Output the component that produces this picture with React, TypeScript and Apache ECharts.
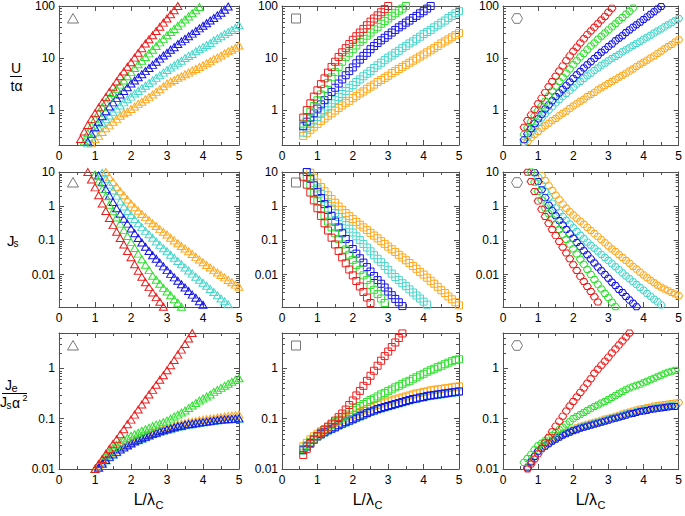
import React, { useEffect, useRef } from "react";
import * as echarts from "echarts";

const FONT = '"Liberation Sans", Arial, Helvetica, sans-serif';
const AXIS_COLOR = "#505050";
const ICON_COLOR = "#777777";

// colour order: red, green, blue, cyan, orange
const COLOR_LIST = ["#ee1d1d", "#30e030", "#1515e6", "#48d6cc", "#ffa81c"];
const DRAW_ORDER = [4, 3, 2, 1, 0];

const X_MIN = 0;
const X_MAX = 5;
const X_STEP = 0.1;
const X_TICK_LABELS = ["0", "1", "2", "3", "4", "5"];

const ROW_Y_MIN = [0.214, 0.00113, 0.01];
const ROW_Y_MAX = [100, 10, 5];
const ROW_DECADES = [
  [0.1, 1, 10],
  [0.001, 0.01, 0.1, 1],
  [0.01, 0.1, 1],
];
const MINOR_MULTIPLIERS = [2, 3, 4, 5, 6, 7, 8, 9];

// ---------- Row 1 : U / (t alpha) ----------
// triangles
const U_TRI_X0 = [0.6, 0.7, 0.8, 0.8, 0.9];
const U_TRI_RED = [0.28, 0.39, 0.52, 0.68, 0.87, 1.12, 1.41, 1.78, 2.24, 2.82, 3.55, 4.47, 5.5, 6.8, 8.3, 10.2, 12.6, 15.5, 19.1, 22.9, 27.5, 33.1, 39.8, 47.9, 57.5, 69.2, 83.2, 100];
const U_TRI_GREEN = [0.25, 0.36, 0.5, 0.68, 0.89, 1.15, 1.41, 1.74, 2.14, 2.57, 3.09, 3.72, 4.47, 5.37, 6.46, 7.59, 8.91, 10.5, 12.3, 14.5, 17, 20, 23.4, 27.5, 31.6, 36.3, 41.7, 47.9, 55, 63.1, 72.4, 83.2, 95.5];
const U_TRI_BLUE = [0.25, 0.35, 0.47, 0.6, 0.76, 0.95, 1.17, 1.41, 1.7, 2.0, 2.34, 2.75, 3.24, 3.72, 4.27, 4.9, 5.62, 6.46, 7.41, 8.51, 9.77, 11.2, 12.6, 14.5, 16.2, 18.6, 20.9, 23.4, 26.3, 29.5, 33.1, 37.2, 41.7, 46.8, 52.5, 58.9, 66.1, 74.1, 85, 98];
const U_TRI_CYAN = [0.23, 0.3, 0.37, 0.46, 0.56, 0.68, 0.79, 0.93, 1.07, 1.23, 1.41, 1.62, 1.82, 2.09, 2.34, 2.63, 2.95, 3.31, 3.72, 4.17, 4.68, 5.25, 5.89, 6.61, 7.24, 8.13, 8.91, 10, 11, 12, 13.5, 14.8, 16.2, 17.8, 19.5, 21.9, 24, 26.3, 28.8, 31.6, 34.7, 38, 42.7];
const U_TRI_ORANGE = [0.23, 0.28, 0.32, 0.38, 0.45, 0.51, 0.6, 0.68, 0.78, 0.87, 0.93, 1.05, 1.17, 1.32, 1.45, 1.62, 1.78, 2.0, 2.24, 2.51, 2.88, 3.24, 3.55, 3.8, 4.17, 4.47, 4.9, 5.25, 5.75, 6.17, 6.76, 7.24, 7.94, 8.71, 9.55, 10.2, 11.2, 12.3, 13.5, 14.5, 15.8, 17.4];
// squares
const U_SQ_X0 = [0.6, 0.6, 0.6, 0.6, 0.6];
const U_SQ_RED = [0.72, 1.0, 1.35, 1.82, 2.4, 3.16, 4.07, 5.25, 6.76, 8.51, 10.5, 12.9, 15.5, 18.6, 22.4, 26.3, 30.9, 36.3, 42.7, 50.1, 57.5, 66.1, 75.9, 87.1, 100];
const U_SQ_GREEN = [0.55, 0.72, 0.93, 1.2, 1.55, 2.0, 2.57, 3.31, 4.27, 5.37, 6.76, 8.51, 10.5, 12.6, 14.8, 17.4, 20.4, 23.4, 26.9, 30.9, 35.5, 39.8, 45.7, 51.3, 57.5, 64.6, 72.4, 81.3, 89.1, 100];
const U_SQ_BLUE = [0.49, 0.6, 0.72, 0.87, 1.07, 1.29, 1.55, 1.86, 2.24, 2.69, 3.24, 3.89, 4.68, 5.62, 6.61, 7.94, 9.33, 11, 12.6, 14.8, 17, 19.5, 21.9, 24.5, 27.5, 30.9, 34.7, 38.9, 42.7, 47.9, 52.5, 58.9, 64.6, 72.4, 79.4, 89.1, 100];
const U_SQ_CYAN = [0.37, 0.45, 0.54, 0.63, 0.74, 0.87, 1.0, 1.17, 1.35, 1.55, 1.78, 2.04, 2.34, 2.69, 3.02, 3.47, 3.89, 4.47, 5.01, 5.62, 6.46, 7.24, 8.13, 9.12, 10.2, 11.2, 12.6, 13.8, 15.5, 17, 19.1, 20.9, 23.4, 25.7, 28.8, 31.6, 34.7, 38.9, 42.7, 47.9, 52.5, 58.9, 64.6, 72.4, 79.4];
const U_SQ_ORANGE = [0.32, 0.36, 0.42, 0.48, 0.54, 0.62, 0.69, 0.78, 0.87, 0.98, 1.1, 1.23, 1.38, 1.51, 1.7, 1.86, 2.09, 2.29, 2.57, 2.82, 3.09, 3.47, 3.8, 4.17, 4.57, 5.13, 5.62, 6.17, 6.76, 7.41, 8.13, 8.91, 9.77, 10.7, 11.7, 12.9, 14.1, 15.5, 17, 19.1, 20.9, 22.9, 25.1, 27.5, 30.2];
// hexagons
const U_HEX_X0 = [0.6, 0.6, 0.6, 0.6, 0.7];
const U_HEX_RED = [0.47, 0.63, 0.81, 1.02, 1.32, 1.7, 2.19, 2.82, 3.55, 4.47, 5.62, 7.08, 8.91, 11, 13.5, 16.2, 19.5, 23.4, 28.2, 33.1, 38.9, 45.7, 53.7, 63.1, 76, 91];
const U_HEX_GREEN = [0.34, 0.46, 0.6, 0.78, 0.98, 1.2, 1.48, 1.86, 2.34, 2.88, 3.55, 4.27, 5.13, 6.17, 7.41, 8.91, 10.5, 12.3, 14.5, 17, 19.5, 22.9, 26.3, 30.2, 34.7, 39.8, 45.7, 52.5, 60.3, 69.2, 79.4, 91.2];
const U_HEX_BLUE = [0.27, 0.35, 0.44, 0.55, 0.68, 0.83, 1.05, 1.26, 1.51, 1.82, 2.14, 2.51, 2.95, 3.47, 4.07, 4.79, 5.5, 6.46, 7.41, 8.51, 9.77, 11.2, 12.9, 14.5, 16.6, 18.6, 21.4, 24, 26.9, 30.9, 34.7, 38.9, 43.7, 49, 55, 61.7, 69.2, 77.6, 87.1, 97.7];
const U_HEX_CYAN = [0.24, 0.3, 0.38, 0.47, 0.58, 0.71, 0.85, 1.0, 1.17, 1.38, 1.58, 1.82, 2.09, 2.4, 2.75, 3.16, 3.55, 4.07, 4.57, 5.13, 5.75, 6.46, 7.24, 7.94, 8.91, 9.77, 10.7, 11.7, 13.2, 14.5, 15.8, 17.4, 19.1, 20.9, 22.9, 25.1, 27.5, 30.2, 33.1, 36.3, 39.8, 43.7, 47.9, 52.5, 57.5];
const U_HEX_ORANGE = [0.25, 0.3, 0.34, 0.39, 0.45, 0.5, 0.56, 0.63, 0.69, 0.78, 0.87, 0.95, 1.07, 1.2, 1.32, 1.48, 1.62, 1.82, 2.0, 2.19, 2.45, 2.69, 2.95, 3.24, 3.55, 3.89, 4.27, 4.68, 5.13, 5.62, 6.17, 6.92, 7.59, 8.32, 9.12, 10, 11, 12.3, 13.5, 15.1, 16.6, 18.2, 20.4, 22.4];

// ---------- Row 2 : Js ----------
const JS_TRI_X0 = [0.8, 1.0, 1.1, 1.2, 1.3];
const JS_TRI_RED = [10, 6.0, 3.55, 2.09, 1.2, 0.72, 0.45, 0.28, 0.18, 0.117, 0.076, 0.049, 0.032, 0.02, 0.013, 0.0087, 0.006, 0.0043, 0.003, 0.0022, 0.0016, 0.00115];
const JS_TRI_GREEN = [8.5, 5.25, 3.16, 1.95, 1.1, 0.71, 0.47, 0.31, 0.2, 0.135, 0.089, 0.06, 0.041, 0.028, 0.0195, 0.0135, 0.0093, 0.0071, 0.0054, 0.0041, 0.0032, 0.0025, 0.0019, 0.0015, 0.00115];
const JS_TRI_BLUE = [7.94, 5.01, 3.16, 2.04, 1.32, 0.87, 0.6, 0.43, 0.31, 0.224, 0.162, 0.117, 0.087, 0.065, 0.049, 0.037, 0.029, 0.0224, 0.0174, 0.0135, 0.0105, 0.0083, 0.0066, 0.0052, 0.0042, 0.0033, 0.0026, 0.0021, 0.00166, 0.00132];
const JS_TRI_CYAN = [9.55, 6.31, 4.27, 2.88, 2.04, 1.38, 0.98, 0.72, 0.55, 0.42, 0.316, 0.245, 0.19, 0.151, 0.12, 0.093, 0.074, 0.059, 0.048, 0.038, 0.031, 0.025, 0.02, 0.0162, 0.0132, 0.0107, 0.0087, 0.0071, 0.0058, 0.0047, 0.0038, 0.0031, 0.0025, 0.002, 0.00166, 0.00135, 0.00112];
const JS_TRI_ORANGE = [10, 7.08, 5.13, 3.72, 2.75, 2.09, 1.58, 1.2, 0.93, 0.74, 0.59, 0.48, 0.39, 0.316, 0.263, 0.214, 0.178, 0.148, 0.12, 0.1, 0.083, 0.069, 0.058, 0.048, 0.04, 0.033, 0.0275, 0.023, 0.019, 0.0162, 0.0135, 0.0115, 0.0098, 0.0083, 0.007, 0.006, 0.0051, 0.0044];
const JS_SQ_X0 = [0.6, 0.7, 0.7, 0.7, 0.8];
const JS_SQ_RED = [7.24, 4.27, 2.51, 1.48, 0.87, 0.52, 0.316, 0.195, 0.12, 0.076, 0.049, 0.032, 0.0214, 0.0141, 0.0095, 0.0065, 0.0045, 0.0031, 0.00214, 0.00148, 0.00112];
const JS_SQ_GREEN = [7.24, 4.17, 2.4, 1.38, 0.83, 0.54, 0.355, 0.24, 0.162, 0.11, 0.076, 0.054, 0.038, 0.027, 0.019, 0.0135, 0.0095, 0.0069, 0.005, 0.0036, 0.0027, 0.002, 0.00148, 0.00112];
const JS_SQ_BLUE = [10, 6.31, 4.07, 2.63, 1.74, 1.15, 0.78, 0.52, 0.355, 0.24, 0.162, 0.11, 0.078, 0.056, 0.041, 0.03, 0.0224, 0.0166, 0.0123, 0.0091, 0.0069, 0.0054, 0.0042, 0.0032, 0.0025, 0.00195, 0.00155, 0.0012];
const JS_SQ_CYAN = [10, 6.92, 4.79, 3.31, 2.34, 1.66, 1.17, 0.85, 0.63, 0.48, 0.363, 0.28, 0.22, 0.17, 0.132, 0.102, 0.079, 0.062, 0.048, 0.037, 0.029, 0.023, 0.0178, 0.0138, 0.0107, 0.0085, 0.0069, 0.0056, 0.0046, 0.0037, 0.003, 0.00245, 0.002, 0.00162, 0.00132];
const JS_SQ_ORANGE = [9.55, 6.76, 4.9, 3.63, 2.75, 2.09, 1.62, 1.26, 0.98, 0.78, 0.63, 0.51, 0.42, 0.347, 0.288, 0.24, 0.2, 0.166, 0.138, 0.115, 0.095, 0.079, 0.066, 0.055, 0.046, 0.038, 0.0316, 0.0263, 0.0219, 0.0178, 0.0148, 0.012, 0.01, 0.0081, 0.0066, 0.0054, 0.0044, 0.0035, 0.0029, 0.0023, 0.0019, 0.00155, 0.00126];
const JS_HEX_X0 = [0.7, 0.8, 0.9, 1.0, 1.1];
const JS_HEX_RED = [9.8, 5.25, 2.69, 1.41, 0.81, 0.5, 0.316, 0.209, 0.138, 0.093, 0.063, 0.043, 0.029, 0.0195, 0.0132, 0.0089, 0.0063, 0.0045, 0.0032, 0.00224, 0.00158, 0.00112];
const JS_HEX_GREEN = [10, 5.01, 2.69, 1.51, 0.89, 0.6, 0.42, 0.295, 0.209, 0.148, 0.107, 0.078, 0.056, 0.04, 0.028, 0.02, 0.0141, 0.01, 0.0072, 0.0052, 0.0038, 0.0028, 0.0021, 0.00155, 0.00115];
const JS_HEX_BLUE = [9.55, 5.25, 3.02, 1.78, 1.07, 0.74, 0.525, 0.38, 0.282, 0.209, 0.155, 0.115, 0.087, 0.066, 0.05, 0.038, 0.0288, 0.0219, 0.0166, 0.0129, 0.01, 0.0078, 0.006, 0.0048, 0.0037, 0.003, 0.0023, 0.0018, 0.00145, 0.00115];
const JS_HEX_CYAN = [7.08, 4.27, 2.69, 1.78, 1.23, 0.89, 0.66, 0.5, 0.39, 0.3, 0.234, 0.182, 0.141, 0.112, 0.089, 0.072, 0.059, 0.048, 0.039, 0.0316, 0.0257, 0.0209, 0.017, 0.0138, 0.0112, 0.0091, 0.0076, 0.0062, 0.0051, 0.0042, 0.0035, 0.0028, 0.00234, 0.0019, 0.0016, 0.0013];
const JS_HEX_ORANGE = [7.94, 5.62, 3.98, 2.88, 2.09, 1.55, 1.15, 0.87, 0.69, 0.55, 0.447, 0.363, 0.295, 0.24, 0.195, 0.158, 0.129, 0.105, 0.085, 0.069, 0.056, 0.047, 0.038, 0.0316, 0.0257, 0.0214, 0.0174, 0.0145, 0.0117, 0.0098, 0.0081, 0.0068, 0.0058, 0.0049, 0.0043, 0.0038, 0.0034, 0.003, 0.0027, 0.0024];

// ---------- Row 3 : Je / (Js alpha^2) ----------
const JE_TRI_X0 = [1.0, 1.0, 1.1, 1.1, 1.0];
const JE_TRI_RED = [0.01, 0.0126, 0.0158, 0.02, 0.0251, 0.0316, 0.0389, 0.049, 0.0617, 0.0776, 0.0955, 0.12, 0.151, 0.191, 0.24, 0.302, 0.372, 0.468, 0.589, 0.724, 0.912, 1.15, 1.45, 1.86, 2.34, 3.02, 3.89, 5.01];
const JE_TRI_GREEN = [0.01, 0.0126, 0.0155, 0.0186, 0.0224, 0.0263, 0.0302, 0.0339, 0.038, 0.0417, 0.0457, 0.049, 0.0525, 0.0575, 0.0617, 0.066, 0.0708, 0.0759, 0.0794, 0.0851, 0.0912, 0.1, 0.11, 0.12, 0.132, 0.145, 0.162, 0.182, 0.204, 0.229, 0.251, 0.275, 0.302, 0.339, 0.372, 0.407, 0.447, 0.49, 0.537, 0.589, 0.631];
const JE_TRI_BLUE = [0.0107, 0.0129, 0.0151, 0.0174, 0.0195, 0.0219, 0.0245, 0.0269, 0.0295, 0.0324, 0.0355, 0.038, 0.0407, 0.0437, 0.0468, 0.0501, 0.0525, 0.0562, 0.0589, 0.0617, 0.0646, 0.0676, 0.0708, 0.0724, 0.0759, 0.0776, 0.0794, 0.0813, 0.0832, 0.0851, 0.0871, 0.0891, 0.0912, 0.0933, 0.0955, 0.0966, 0.0977, 0.0988, 0.1, 0.101];
const JE_TRI_CYAN = [0.0105, 0.0126, 0.0148, 0.017, 0.0191, 0.0214, 0.024, 0.0263, 0.0288, 0.0316, 0.0347, 0.0372, 0.0398, 0.0427, 0.0457, 0.049, 0.0513, 0.055, 0.0575, 0.0603, 0.0631, 0.0661, 0.0692, 0.0708, 0.0741, 0.0759, 0.0776, 0.0794, 0.0813, 0.0832, 0.0851, 0.0871, 0.0891, 0.0912, 0.0933, 0.0944, 0.0955, 0.0966, 0.0977, 0.0988];
const JE_TRI_ORANGE = [0.01, 0.0117, 0.0138, 0.0162, 0.0186, 0.0209, 0.0234, 0.0263, 0.0288, 0.0316, 0.0347, 0.038, 0.0407, 0.0437, 0.0468, 0.0501, 0.0537, 0.0562, 0.0603, 0.0631, 0.0661, 0.0692, 0.0724, 0.0759, 0.0794, 0.0813, 0.0851, 0.0871, 0.0891, 0.0933, 0.0955, 0.0977, 0.1, 0.102, 0.105, 0.107, 0.11, 0.112, 0.115, 0.117, 0.12];
const JE_SQ_X0 = [0.6, 0.6, 0.6, 0.6, 0.6];
const JE_SQ_RED = [0.019, 0.0251, 0.0316, 0.038, 0.0447, 0.0525, 0.0603, 0.0692, 0.0794, 0.0912, 0.107, 0.126, 0.151, 0.186, 0.229, 0.288, 0.355, 0.447, 0.562, 0.708, 0.891, 1.12, 1.41, 1.74, 2.14, 2.63, 3.24, 3.98, 4.9];
const JE_SQ_GREEN = [0.0251, 0.0295, 0.0347, 0.0398, 0.0457, 0.0525, 0.0603, 0.0676, 0.0759, 0.0851, 0.0955, 0.107, 0.12, 0.135, 0.148, 0.162, 0.178, 0.195, 0.214, 0.234, 0.251, 0.275, 0.302, 0.324, 0.355, 0.38, 0.417, 0.447, 0.49, 0.525, 0.562, 0.617, 0.661, 0.724, 0.776, 0.851, 0.912, 0.977, 1.05, 1.12, 1.2, 1.29, 1.38, 1.45, 1.51];
const JE_SQ_BLUE = [0.024, 0.0282, 0.0331, 0.0389, 0.0447, 0.049, 0.0537, 0.0589, 0.0631, 0.0676, 0.0741, 0.0794, 0.0851, 0.0912, 0.0977, 0.105, 0.112, 0.12, 0.129, 0.138, 0.145, 0.155, 0.162, 0.17, 0.178, 0.186, 0.195, 0.204, 0.214, 0.224, 0.234, 0.245, 0.251, 0.263, 0.269, 0.282, 0.288, 0.295, 0.302, 0.309, 0.316, 0.324, 0.331, 0.339, 0.347];
const JE_SQ_CYAN = [0.023, 0.0275, 0.0324, 0.038, 0.0437, 0.0479, 0.0525, 0.0575, 0.0617, 0.0661, 0.0724, 0.0776, 0.0832, 0.0891, 0.0955, 0.102, 0.11, 0.117, 0.126, 0.135, 0.141, 0.151, 0.158, 0.166, 0.174, 0.182, 0.191, 0.2, 0.209, 0.219, 0.229, 0.24, 0.245, 0.257, 0.263, 0.275, 0.282, 0.288, 0.295, 0.302, 0.309, 0.316, 0.324, 0.331, 0.339];
const JE_SQ_ORANGE = [0.0282, 0.0331, 0.0389, 0.0447, 0.0501, 0.0562, 0.0617, 0.0676, 0.0741, 0.0813, 0.0891, 0.0955, 0.102, 0.11, 0.117, 0.126, 0.135, 0.145, 0.155, 0.166, 0.178, 0.186, 0.2, 0.209, 0.219, 0.229, 0.24, 0.251, 0.263, 0.275, 0.288, 0.302, 0.316, 0.324, 0.339, 0.347, 0.363, 0.372, 0.38, 0.389, 0.398, 0.407, 0.417, 0.427, 0.437];
const JE_HEX_X0 = [0.7, 0.6, 0.7, 0.7, 0.7];
const JE_HEX_RED = [0.01, 0.0126, 0.0158, 0.02, 0.0257, 0.0331, 0.0427, 0.055, 0.0708, 0.0891, 0.112, 0.141, 0.178, 0.219, 0.269, 0.331, 0.407, 0.501, 0.617, 0.794, 0.955, 1.15, 1.38, 1.66, 2.0, 2.4, 2.88, 3.47, 4.17, 5.01];
const JE_HEX_GREEN = [0.0135, 0.0162, 0.0195, 0.024, 0.0288, 0.0324, 0.0363, 0.0417, 0.0468, 0.0525, 0.0603, 0.0676, 0.0776, 0.0871, 0.1, 0.11, 0.12, 0.132, 0.145, 0.158, 0.174, 0.186, 0.204, 0.219, 0.24, 0.263, 0.288, 0.316, 0.347, 0.38, 0.407, 0.427, 0.457, 0.479, 0.513, 0.55, 0.589, 0.631, 0.676, 0.724, 0.776, 0.832, 0.871, 0.912];
const JE_HEX_BLUE = [0.0105, 0.0138, 0.0178, 0.0224, 0.0251, 0.0282, 0.0316, 0.0355, 0.0389, 0.0427, 0.0468, 0.0501, 0.0537, 0.0575, 0.0603, 0.0646, 0.0676, 0.0708, 0.0741, 0.0776, 0.0813, 0.0851, 0.0891, 0.0933, 0.0977, 0.102, 0.107, 0.112, 0.117, 0.123, 0.126, 0.132, 0.138, 0.141, 0.145, 0.151, 0.155, 0.158, 0.162, 0.166, 0.17, 0.174, 0.174];
const JE_HEX_CYAN = [0.011, 0.0145, 0.0182, 0.0229, 0.0257, 0.0288, 0.0324, 0.0363, 0.0398, 0.0437, 0.0479, 0.0513, 0.055, 0.0589, 0.0631, 0.0676, 0.0708, 0.0741, 0.0776, 0.0813, 0.0851, 0.0891, 0.0933, 0.0977, 0.102, 0.107, 0.112, 0.117, 0.123, 0.129, 0.132, 0.138, 0.145, 0.148, 0.155, 0.158, 0.162, 0.166, 0.17, 0.174, 0.178, 0.182, 0.186];
const JE_HEX_ORANGE = [0.011, 0.0141, 0.0178, 0.0229, 0.0263, 0.0295, 0.0331, 0.0372, 0.0417, 0.0457, 0.0501, 0.0537, 0.0575, 0.0617, 0.0661, 0.0708, 0.0741, 0.0776, 0.0813, 0.0851, 0.0891, 0.0933, 0.0977, 0.102, 0.107, 0.112, 0.117, 0.123, 0.129, 0.135, 0.141, 0.148, 0.155, 0.158, 0.166, 0.17, 0.178, 0.182, 0.186, 0.191, 0.195, 0.2, 0.204, 0.209];

// panel table: [row][col] -> [values per colour, x start per colour]
const PANELS: [number[][], number[]][][] = [
  [
    [[U_TRI_RED, U_TRI_GREEN, U_TRI_BLUE, U_TRI_CYAN, U_TRI_ORANGE], U_TRI_X0],
    [[U_SQ_RED, U_SQ_GREEN, U_SQ_BLUE, U_SQ_CYAN, U_SQ_ORANGE], U_SQ_X0],
    [[U_HEX_RED, U_HEX_GREEN, U_HEX_BLUE, U_HEX_CYAN, U_HEX_ORANGE], U_HEX_X0],
  ],
  [
    [[JS_TRI_RED, JS_TRI_GREEN, JS_TRI_BLUE, JS_TRI_CYAN, JS_TRI_ORANGE], JS_TRI_X0],
    [[JS_SQ_RED, JS_SQ_GREEN, JS_SQ_BLUE, JS_SQ_CYAN, JS_SQ_ORANGE], JS_SQ_X0],
    [[JS_HEX_RED, JS_HEX_GREEN, JS_HEX_BLUE, JS_HEX_CYAN, JS_HEX_ORANGE], JS_HEX_X0],
  ],
  [
    [[JE_TRI_RED, JE_TRI_GREEN, JE_TRI_BLUE, JE_TRI_CYAN, JE_TRI_ORANGE], JE_TRI_X0],
    [[JE_SQ_RED, JE_SQ_GREEN, JE_SQ_BLUE, JE_SQ_CYAN, JE_SQ_ORANGE], JE_SQ_X0],
    [[JE_HEX_RED, JE_HEX_GREEN, JE_HEX_BLUE, JE_HEX_CYAN, JE_HEX_ORANGE], JE_HEX_X0],
  ],
];

// ---------- layout ----------
const COL_LEFT = [59, 282, 503];
const COL_WIDTH = [180, 177, 178];
const ROW_TOP = [6, 172, 333];
const ROW_HEIGHT = [139, 135, 136];
const ICON_DX = 14;
const ICON_DY = [12.5, 10.5, 12.5];
const XNAME_CENTER = [151, 370, 593];
const XNAME_Y = 499;

const HEX_PATH = "path://M0,43.3L25,0L75,0L100,43.3L75,86.6L25,86.6Z";
const COL_SYMBOL = ["triangle", "rect", HEX_PATH];
const COL_SYMBOL_SIZE: number[][] = [[8, 7], [7, 7], [8, 7]];

function logLabel(v: number): string {
  const l = Math.log10(v);
  const r = Math.round(l);
  if (Math.abs(l - r) > 1e-6) return "";
  return r >= 0 ? String(Math.pow(10, r)) : Math.pow(10, r).toFixed(-r);
}

function buildOption() {
  const grid: any[] = [];
  const xAxis: any[] = [];
  const yAxis: any[] = [];
  const series: any[] = [];
  const graphic: any[] = [];

  const lineStyle = { color: AXIS_COLOR, width: 1 };

  for (let row = 0; row < 3; row++) {
    for (let col = 0; col < 3; col++) {
      const p = row * 3 + col;
      grid.push({ left: COL_LEFT[col], top: ROW_TOP[row], width: COL_WIDTH[col], height: ROW_HEIGHT[row], containLabel: false });
      const xBase = {
        type: "value", gridIndex: p, min: X_MIN, max: X_MAX, interval: 1,
        axisLine: { show: true, onZero: false, lineStyle },
        axisTick: { show: true, inside: true, length: 5, lineStyle },
        minorTick: { show: true, splitNumber: 2, length: 3, lineStyle },
        splitLine: { show: false }, minorSplitLine: { show: false },
      };
      xAxis.push({
        ...xBase, position: "bottom",
        axisLabel: { show: true, fontSize: 12, color: "#000", margin: 5, fontFamily: FONT,
          formatter: (v: number) => X_TICK_LABELS[Math.round(v)] ?? "" },
      });
      xAxis.push({ ...xBase, position: "top", axisLabel: { show: false } });
      const yBase = {
        type: "log", logBase: 10, gridIndex: p, min: ROW_Y_MIN[row], max: ROW_Y_MAX[row],
        axisLine: { show: true, onZero: false, lineStyle },
        axisTick: { show: true, inside: true, length: 5, lineStyle },
        splitLine: { show: false }, minorTick: { show: false }, minorSplitLine: { show: false },
      };
      yAxis.push({
        ...yBase, position: "left",
        axisLabel: { show: true, fontSize: 12, color: "#000", margin: 4, fontFamily: FONT, formatter: logLabel },
      });
      yAxis.push({ ...yBase, position: "right", axisLabel: { show: false } });

      // minor log ticks drawn through the axis scale
      const minorTicks: number[][] = [];
      ROW_DECADES[row].forEach((d) => {
        MINOR_MULTIPLIERS.forEach((m) => {
          const v = d * m;
          if (v > ROW_Y_MIN[row] && v < ROW_Y_MAX[row]) minorTicks.push([X_MIN, v]);
        });
      });
      series.push({
        type: "custom", xAxisIndex: 2 * p, yAxisIndex: 2 * p, silent: true, clip: false, z: 1,
        data: minorTicks, encode: { x: 0, y: 1 },
        renderItem: (params: any, api: any) => {
          const cs = params.coordSys;
          const y = Math.round(api.coord([X_MIN, api.value(1)])[1]) + 0.5;
          return {
            type: "group",
            children: [
              { type: "line", shape: { x1: cs.x, y1: y, x2: cs.x + 3, y2: y }, style: { stroke: AXIS_COLOR, lineWidth: 1 } },
              { type: "line", shape: { x1: cs.x + cs.width - 3, y1: y, x2: cs.x + cs.width, y2: y }, style: { stroke: AXIS_COLOR, lineWidth: 1 } },
            ],
          };
        },
      });

      const [vals, x0s] = PANELS[row][col];
      DRAW_ORDER.forEach((ci) => {
        const arr = vals[ci];
        const x0 = x0s[ci];
        series.push({
          type: "scatter", xAxisIndex: 2 * p, yAxisIndex: 2 * p, silent: true, z: 2,
          symbol: COL_SYMBOL[col], symbolSize: COL_SYMBOL_SIZE[col], symbolKeepAspect: true,
          itemStyle: { color: "transparent", borderColor: COLOR_LIST[ci], borderWidth: 1, opacity: 1 },
          data: arr.map((v, i) => [Math.round((x0 + i * X_STEP) * 100) / 100, v]),
        });
      });

      // corner shape icon
      const cx = COL_LEFT[col] + ICON_DX;
      const cy = ROW_TOP[row] + ICON_DY[row];
      const iconStyle = { fill: "none", stroke: ICON_COLOR, lineWidth: 1 };
      if (col === 0) {
        graphic.push({ type: "polygon", shape: { points: [[cx - 5.5, cy + 4.5], [cx + 5.5, cy + 4.5], [cx, cy - 5]] }, style: iconStyle });
      } else if (col === 1) {
        graphic.push({ type: "rect", shape: { x: cx - 4.5, y: cy - 4.5, width: 9, height: 9 }, style: iconStyle });
      } else {
        graphic.push({ type: "polygon", shape: { points: [[cx - 5.5, cy], [cx - 2.75, cy - 4.8], [cx + 2.75, cy - 4.8], [cx + 5.5, cy], [cx + 2.75, cy + 4.8], [cx - 2.75, cy + 4.8]] }, style: iconStyle });
      }
    }
  }

  const txt = (text: string, x: number, y: number, size: number, align = "left") => ({
    type: "text", x, y,
    style: { text, fill: "#000", font: `${size}px ${FONT}`, textAlign: align, textVerticalAlign: "middle" },
  });
  const line = (x1: number, x2: number, y: number) => ({
    type: "line", shape: { x1, y1: y, x2, y2: y }, style: { stroke: "#000", lineWidth: 1 },
  });

  // row 1 label: U / t alpha
  graphic.push(txt("U", 16, 67.5, 14, "center"));
  graphic.push(line(10, 22, 76.5));
  graphic.push(txt("tα", 16.5, 85.5, 14, "center"));
  // row 2 label: J_s
  graphic.push(txt("J", 7, 240, 15));
  graphic.push(txt("s", 13.5, 243.5, 10));
  // row 3 label: J_e / (J_s alpha^2)
  graphic.push(txt("J", 5, 384.5, 14));
  graphic.push(txt("e", 11.5, 387.5, 11));
  graphic.push(line(2, 27, 393.5));
  graphic.push(txt("J", 0, 402, 14));
  graphic.push(txt("s", 6.5, 405, 10));
  graphic.push(txt("α", 12, 403, 14));
  graphic.push(txt("2", 22.5, 398, 9));
  // x names
  XNAME_CENTER.forEach((c) => {
    graphic.push(txt("L/λ", c + 4, XNAME_Y, 16, "right"));
    graphic.push(txt("C", c + 4.5, XNAME_Y + 6, 11, "left"));
  });

  return {
    animation: false,
    backgroundColor: "#fff",
    textStyle: { fontFamily: FONT },
    grid, xAxis, yAxis, series, graphic,
  };
}

export default function App() {
  const ref = useRef<HTMLDivElement>(null);
  useEffect(() => {
    if (!ref.current) return;
    const chart = echarts.init(ref.current, null, { renderer: "svg" });
    chart.setOption(buildOption() as any);
    return () => chart.dispose();
  }, []);
  return (
    <div
      ref={ref}
      style={{ position: "fixed", left: 0, top: 0, width: 685, height: 516, background: "#fff" }}
    />
  );
}
